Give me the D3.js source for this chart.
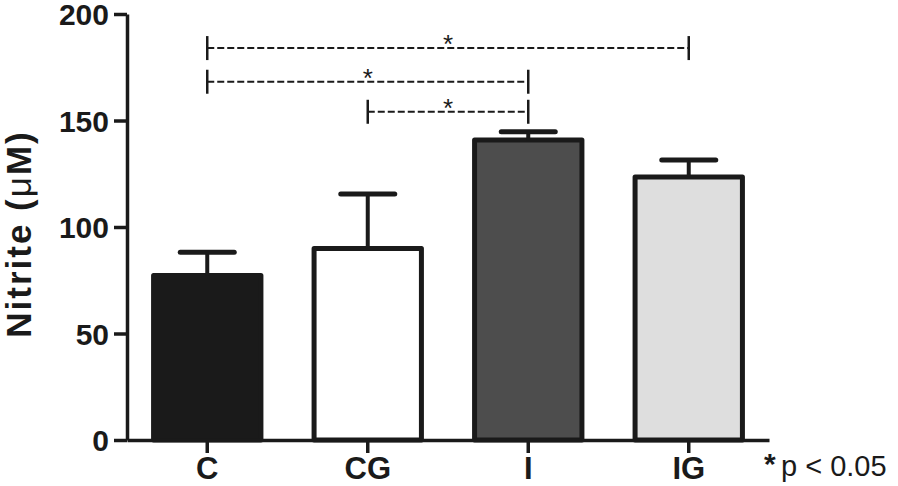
<!DOCTYPE html>
<html><head><meta charset="utf-8">
<script src="https://cdn.jsdelivr.net/npm/d3@7"></script>
<style>body{margin:0;background:#fff}svg{display:block}text{font-family:"Liberation Sans",Arial,Helvetica,sans-serif}</style>
</head><body><svg id="c" width="898" height="486"></svg>
<script>
const categories = ["C", "CG", "I", "IG"];
const means = [77.2, 89.9, 140.8, 123.5];
const errors = [10.9, 25.6, 3.9, 8.0];
const fills = ["#1a1a1a", "#ffffff", "#4d4d4d", "#dedede"];
const yTicks = [0, 50, 100, 150, 200];
const brackets = [
  {from: "C", to: "IG", level: 184},
  {from: "C", to: "I", level: 168.2},
  {from: "CG", to: "I", level: 154.1}
];
const footnote = "p < 0.05";

const svg = d3.select("#c");
const ink = "#1a1a1a";
const x = d3.scaleBand().domain(categories).range([127, 769]).paddingInner(0.3).paddingOuter(0.15);
const y = d3.scaleLinear().domain([0, 200]).range([440, 14]);

// bars
const bw = x.bandwidth();
svg.append("g").selectAll("rect").data(categories).join("rect")
  .attr("x", d => x(d) + 2.5)
  .attr("width", bw - 5)
  .attr("y", (d, i) => y(means[i]))
  .attr("height", (d, i) => y(0) - y(means[i]))
  .attr("fill", (d, i) => fills[i])
  .attr("stroke", ink).attr("stroke-width", 5).attr("stroke-linejoin", "round");

// error bars
const eg = svg.append("g").attr("stroke", ink).attr("stroke-linecap", "round");
categories.forEach((c, i) => {
  const cx = x(c) + bw / 2;
  eg.append("line").attr("x1", cx).attr("x2", cx).attr("y1", y(means[i])).attr("y2", y(means[i] + errors[i])).attr("stroke-width", 4).attr("stroke-linecap", "butt");
  eg.append("line").attr("x1", cx - 27).attr("x2", cx + 27).attr("y1", y(means[i] + errors[i])).attr("y2", y(means[i] + errors[i])).attr("stroke-width", 5);
});

// y axis
const ya = svg.append("g").attr("transform", "translate(127,0)")
  .call(d3.axisLeft(y).tickValues(yTicks).tickSize(13).tickPadding(5).tickSizeOuter(0));
ya.select(".domain").attr("stroke", ink).attr("stroke-width", 3.5);
ya.selectAll(".tick line").attr("stroke", ink).attr("stroke-width", 3.5);
ya.selectAll(".tick text").attr("fill", ink).style("font-size", "30px").style("font-weight", "bold").attr("dy", "0.36em");

// x axis
const xa = svg.append("g").attr("transform", "translate(0,440)")
  .call(d3.axisBottom(x).tickSize(13).tickPadding(4).tickSizeOuter(0));
xa.select(".domain").attr("stroke", ink).attr("stroke-width", 3.5);
xa.selectAll(".tick line").attr("stroke", ink).attr("stroke-width", 3.5);
xa.selectAll(".tick text").attr("fill", ink).style("font-size", "31px").style("font-weight", "bold").attr("dy", "0.72em");

// y label
svg.append("text").attr("transform", "translate(31,234) rotate(-90)").attr("text-anchor", "middle")
  .attr("fill", ink).style("font-size", "35px").style("font-weight", "bold").style("letter-spacing", "2px")
  .call(t => { t.append("tspan").text("Nitrite ("); t.append("tspan").style("font-weight", "normal").text("\u03bc"); t.append("tspan").text("M)"); });

// significance brackets
const bg = svg.append("g");
brackets.forEach(b => {
  const x1 = x(b.from) + bw / 2, x2 = x(b.to) + bw / 2, yy = y(b.level);
  bg.append("line").attr("x1", x1).attr("x2", x2).attr("y1", yy).attr("y2", yy)
    .attr("stroke", ink).attr("stroke-width", 2).attr("stroke-dasharray", "7,3");
  [x1, x2].forEach(xx => bg.append("line").attr("x1", xx).attr("x2", xx).attr("y1", yy - 12).attr("y2", yy + 12)
    .attr("stroke", ink).attr("stroke-width", 2.5));
  bg.append("text").attr("x", (x1 + x2) / 2).attr("y", yy + 5).attr("text-anchor", "middle")
    .attr("fill", ink).style("font-size", "26px").text("*");
});

// footnote
svg.append("text").attr("x", 764).attr("y", 474).attr("fill", ink).style("font-size", "30px").style("font-weight","bold").text("*");
svg.append("text").attr("x", 781).attr("y", 476).attr("fill", ink).style("font-size", "29px").text(footnote);
</script></body></html>
